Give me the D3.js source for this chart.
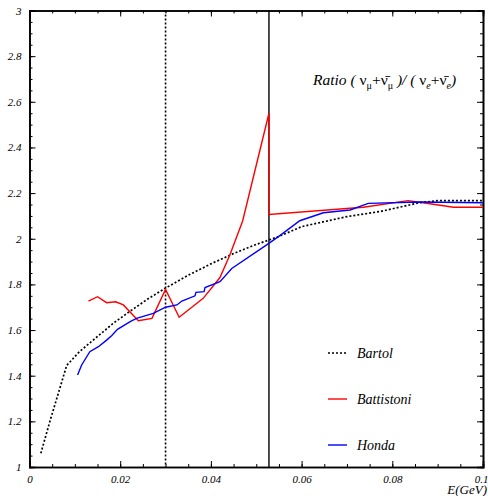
<!DOCTYPE html>
<html>
<head>
<meta charset="utf-8">
<script src="https://cdn.jsdelivr.net/npm/d3@7"></script>
<style>
  html, body { margin: 0; padding: 0; background: #fff; }
  svg { display: block; }
  text { font-family: "Liberation Serif", "DejaVu Serif", serif; font-style: italic; }
</style>
</head>
<body>
<svg id="chart" width="488" height="496"></svg>
<script>
// ---- data ----
const bartol = [
  [0.0025,1.06],[0.0045,1.20],[0.0082,1.445],[0.011,1.505],[0.015,1.572],[0.0185,1.63],
  [0.022,1.68],[0.026,1.735],[0.030,1.784],[0.035,1.84],[0.040,1.89],[0.045,1.935],
  [0.050,1.975],[0.055,2.01],[0.060,2.053],[0.070,2.097],[0.0775,2.12],[0.086,2.158],
  [0.090,2.167],[0.100,2.167]
];
const battistoni = [
  [0.013,1.727],[0.015,1.746],[0.017,1.72],[0.019,1.724],[0.0207,1.71],[0.024,1.641],
  [0.027,1.651],[0.030,1.778],[0.033,1.656],[0.0383,1.739],[0.042,1.83],[0.0442,1.93],
  [0.047,2.078],[0.0528,2.55],[0.0528,2.106],[0.0736,2.138],[0.0835,2.167],[0.0868,2.158],
  [0.0935,2.138],[0.100,2.138]
];
const honda = [
  [0.0106,1.403],[0.0115,1.447],[0.0133,1.505],[0.0152,1.527],[0.017,1.556],[0.0181,1.575],
  [0.0194,1.603],[0.0222,1.637],[0.0236,1.651],[0.0273,1.673],[0.030,1.70],[0.0325,1.71],
  [0.0336,1.727],[0.0365,1.75],[0.0367,1.765],[0.0385,1.768],[0.0387,1.786],[0.042,1.812],
  [0.0446,1.87],[0.0523,1.973],[0.0552,2.014],[0.0596,2.079],[0.0648,2.114],[0.0707,2.126],
  [0.0747,2.155],[0.0861,2.161],[0.100,2.158]
];
const xMajorTicks = [0, 0.02, 0.04, 0.06, 0.08, 0.1];
const xTickLabels = ["0", "0.02", "0.04", "0.06", "0.08", "0.1"];
const yMajorTicks = [1, 1.2, 1.4, 1.6, 1.8, 2, 2.2, 2.4, 2.6, 2.8, 3];
const yTickLabels = ["1", "1.2", "1.4", "1.6", "1.8", "2", "2.2", "2.4", "2.6", "2.8", "3"];
const verticalMarkers = [0.03, 0.0528];
const legendNames = ["Bartol", "Battistoni", "Honda"];

// ---- layout ----
const svg = d3.select("#chart");
const L = 29.5, R = 483, T = 10.5, B = 467;
const x = d3.scaleLinear().domain([0, 0.1]).range([L, R]);
const y = d3.scaleLinear().domain([1, 3]).range([B, T]);

const xMinor = d3.range(0, 0.1001, 0.005);
const yMinor = d3.range(1, 3.001, 0.05);

function styleAxis(g) {
  g.selectAll("path.domain").attr("stroke", "#000").attr("stroke-width", 1.6);
  g.selectAll(".tick line").attr("stroke", "#000").attr("stroke-width", 1);
  g.selectAll("text").attr("font-family", "Liberation Serif, serif").attr("font-style", "italic")
    .attr("font-size", 11).attr("fill", "#000");
}

// minor ticks
svg.append("g").attr("transform", `translate(0,${B})`)
  .call(d3.axisBottom(x).tickValues(xMinor).tickSize(-3).tickFormat(""))
  .call(styleAxis);
svg.append("g").attr("transform", `translate(0,${T})`)
  .call(d3.axisTop(x).tickValues(xMinor).tickSize(-3).tickFormat(""))
  .call(styleAxis);
svg.append("g").attr("transform", `translate(${L},0)`)
  .call(d3.axisLeft(y).tickValues(yMinor).tickSize(-3).tickFormat(""))
  .call(styleAxis);
svg.append("g").attr("transform", `translate(${R},0)`)
  .call(d3.axisRight(y).tickValues(yMinor).tickSize(-3).tickFormat(""))
  .call(styleAxis);

// major ticks
const xAxisG = svg.append("g").attr("transform", `translate(0,${B})`)
  .call(d3.axisBottom(x).tickValues(xMajorTicks).tickSize(-6).tickPadding(8)
    .tickFormat((d, i) => xTickLabels[i]))
  .call(styleAxis);
xAxisG.selectAll(".tick text").filter(d => d === 0.1).attr("dx", -2);
svg.append("g").attr("transform", `translate(0,${T})`)
  .call(d3.axisTop(x).tickValues(xMajorTicks).tickSize(-6).tickFormat(""))
  .call(styleAxis);
svg.append("g").attr("transform", `translate(${L},0)`)
  .call(d3.axisLeft(y).tickValues(yMajorTicks).tickSize(-6).tickPadding(8)
    .tickFormat((d, i) => yTickLabels[i]))
  .call(styleAxis);
svg.append("g").attr("transform", `translate(${R},0)`)
  .call(d3.axisRight(y).tickValues(yMajorTicks).tickSize(-6).tickFormat(""))
  .call(styleAxis);

// vertical markers
svg.append("line")
  .attr("x1", x(verticalMarkers[0])).attr("x2", x(verticalMarkers[0]))
  .attr("y1", T).attr("y2", B)
  .attr("stroke", "#000").attr("stroke-width", 1.6).attr("stroke-dasharray", "2,2");
svg.append("line")
  .attr("x1", x(verticalMarkers[1])).attr("x2", x(verticalMarkers[1]))
  .attr("y1", T).attr("y2", B)
  .attr("stroke", "#000").attr("stroke-width", 1.4);

// curves
const line = d3.line().x(d => x(d[0])).y(d => y(d[1]));
svg.append("path").datum(bartol).attr("d", line)
  .attr("fill", "none").attr("stroke", "#000").attr("stroke-width", 1.7).attr("stroke-dasharray", "2,2");
svg.append("path").datum(battistoni).attr("d", line)
  .attr("fill", "none").attr("stroke", "#ff0000").attr("stroke-width", 1.4);
svg.append("path").datum(honda).attr("d", line)
  .attr("fill", "none").attr("stroke", "#0000ff").attr("stroke-width", 1.4);

// legend
const legendY = [353, 399, 445];
const legendStyles = [
  {stroke: "#000", dash: "2,2", w: 1.6},
  {stroke: "#ff0000", dash: null, w: 1.4},
  {stroke: "#0000ff", dash: null, w: 1.4}
];
legendNames.forEach((name, i) => {
  svg.append("line").attr("x1", 328).attr("x2", 347).attr("y1", legendY[i]).attr("y2", legendY[i])
    .attr("stroke", legendStyles[i].stroke).attr("stroke-width", legendStyles[i].w)
    .attr("stroke-dasharray", legendStyles[i].dash);
  svg.append("text").attr("x", 357).attr("y", legendY[i] + 4.5)
    .attr("font-size", 14).text(name);
});

// title (ratio)
const t = svg.append("text").attr("x", 313).attr("y", 85).attr("font-size", 15.5);
t.append("tspan").text("Ratio ( ");
t.append("tspan").attr("font-style", "normal").text("ν");
t.append("tspan").attr("font-size", 10).attr("font-style", "normal").attr("dy", 4).text("μ");
t.append("tspan").attr("dy", -4).attr("font-style", "normal").text("+");
t.append("tspan").attr("font-style", "normal").text("ν\u0304");
t.append("tspan").attr("font-size", 10).attr("font-style", "normal").attr("dy", 4).text("μ");
t.append("tspan").attr("dy", -4).text(" )/ ( ");
t.append("tspan").attr("font-style", "normal").text("ν");
t.append("tspan").attr("font-size", 10).attr("dy", 4).text("e");
t.append("tspan").attr("dy", -4).attr("font-style", "normal").text("+");
t.append("tspan").attr("font-style", "normal").text("ν\u0304");
t.append("tspan").attr("font-size", 10).attr("dy", 4).text("e");
t.append("tspan").attr("dy", -4).text(")");

// x axis title
svg.append("text").attr("x", 487).attr("y", 494).attr("text-anchor", "end")
  .attr("font-size", 13).text("E(GeV)");
</script>
</body>
</html>
